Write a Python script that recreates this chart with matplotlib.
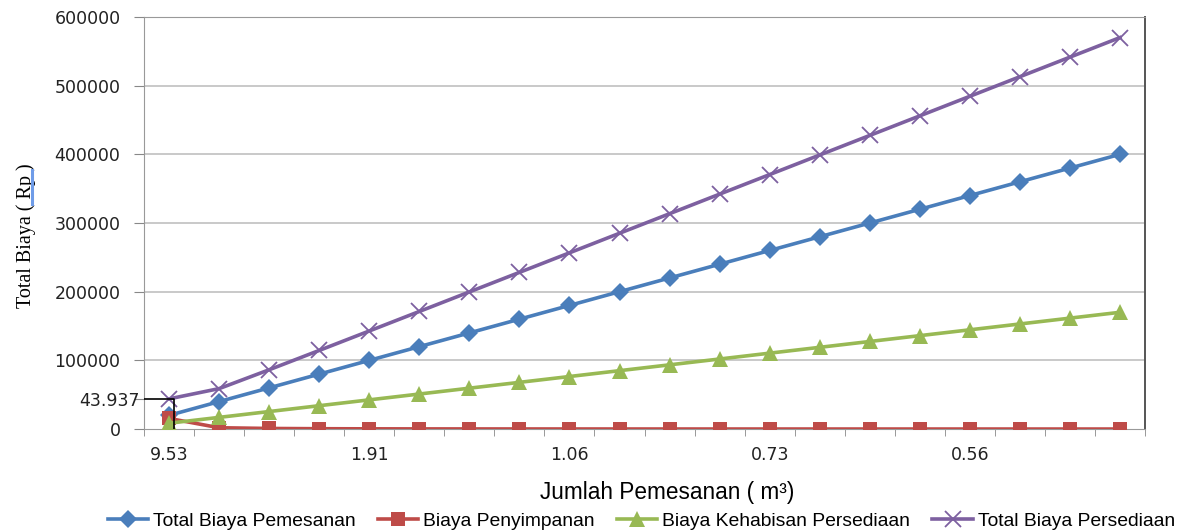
import matplotlib.pyplot as plt
from matplotlib.lines import Line2D
from matplotlib.ticker import FixedLocator

# order number (category position) and the order size shown under it
order_idx = list(range(1, 21))
tick_pos = [1, 5, 9, 13, 17]
tick_labels = ['9.53', '1.91', '1.06', '0.73', '0.56']

biaya_pemesanan = [20000, 40000, 60000, 80000, 100000, 120000, 140000, 160000, 180000, 200000,
                   220000, 240000, 260000, 280000, 300000, 320000, 340000, 360000, 380000, 400000]
biaya_penyimpanan = [15437, 1900, 850, 480, 310, 215, 160, 120, 95, 77,
                     64, 54, 46, 40, 35, 31, 27, 24, 22, 20]
biaya_kehabisan = [8500, 17000, 25500, 34000, 42500, 51000, 59500, 68000, 76500, 85000,
                   93500, 102000, 110500, 119000, 127500, 136000, 144500, 153000, 161500, 170000]
total_persediaan = [43937, 58900, 86350, 114480, 142810, 171215, 199660, 228120, 256595, 285077,
                    313564, 342054, 370546, 399040, 427535, 456031, 484527, 513024, 541522, 570020]

titik_optimal = 43937

label_font = ['Liberation Sans', 'DejaVu Sans']

fig = plt.figure(figsize=(11.81, 5.31), dpi=100)
ax = fig.add_axes([0.122, 0.192, 0.8475, 0.776])

series = [
    (biaya_pemesanan, 'Total Biaya Pemesanan', '#4A7EBB', 'D', 9),
    (biaya_penyimpanan, 'Biaya Penyimpanan', '#BE4B48', 's', 10),
    (biaya_kehabisan, 'Biaya Kehabisan Persediaan', '#98B954', '^', 11),
    (total_persediaan, 'Total Biaya Persediaan', '#7D60A0', 'x', 12),
]
for vals, name, col, mk, ms in series:
    ax.plot(order_idx, vals, color=col, lw=2.6, marker=mk, ms=ms,
            mew=1.3 if mk == 'x' else 0, mfc=col, mec=col, label=name, zorder=3)

# guide lines to the optimum point
ax.plot([0.5, 1.1, 1.1], [titik_optimal, titik_optimal, 0], color='black', lw=1.2, zorder=4)

ax.set_xlim(0.5, 20.5)
ax.set_ylim(0, 600000)

yticks = [0, titik_optimal, 100000, 200000, 300000, 400000, 500000, 600000]
ylabels = ['0', '43.937', '100000', '200000', '300000', '400000', '500000', '600000']
ax.set_yticks(yticks)
ax.set_yticklabels(ylabels, fontsize=12.5, color='#222222')
for g in [100000, 200000, 300000, 400000, 500000, 600000]:
    ax.axhline(g, color='#BBBBBB', lw=1.1, zorder=1)

ax.set_xticks(tick_pos)
ax.set_xticklabels(tick_labels, fontsize=12.5, color='#222222')
ax.xaxis.set_minor_locator(FixedLocator([i + 0.5 for i in range(0, 21)]))
ax.tick_params(axis='x', which='major', length=0, pad=12)
ax.tick_params(axis='x', which='minor', length=5, color='#888888', direction='out')
ax.tick_params(axis='y', length=7, color='#888888', direction='out', pad=10)

# the optimum label sits right against the axis, without a tick mark
# (pad is added on top of the 7pt tick length)
opt_tick = ax.yaxis.get_major_ticks()[1]
opt_tick.tick1line.set_markersize(0)
opt_tick.set_pad(-3.5)

for side in ['left', 'bottom', 'top']:
    ax.spines[side].set_color('#999999')
ax.spines['right'].set_color('#555555')
ax.spines['right'].set_linewidth(1.4)

ax.set_ylabel('Total Biaya ( Rp )', family='Liberation Serif', fontsize=14.5)
ax.yaxis.set_label_coords(-0.108, 0.47)
# blue underline under "Rp"
fig.add_artist(Line2D([0.0275, 0.0275], [0.615, 0.68], color='#6F9CE8', lw=2.2))

ax.set_xlabel('Jumlah Pemesanan ( m³)', family=label_font, fontsize=16.3)
ax.xaxis.set_label_coords(0.523, -0.126)

fig.legend(loc='center', bbox_to_anchor=(0.543, 0.018), ncol=4, frameon=False,
           prop={'family': label_font, 'size': 13.9},
           handlelength=2.1, columnspacing=1.15, handletextpad=0.25, borderaxespad=0)

fig.savefig('out.png', dpi=100)
